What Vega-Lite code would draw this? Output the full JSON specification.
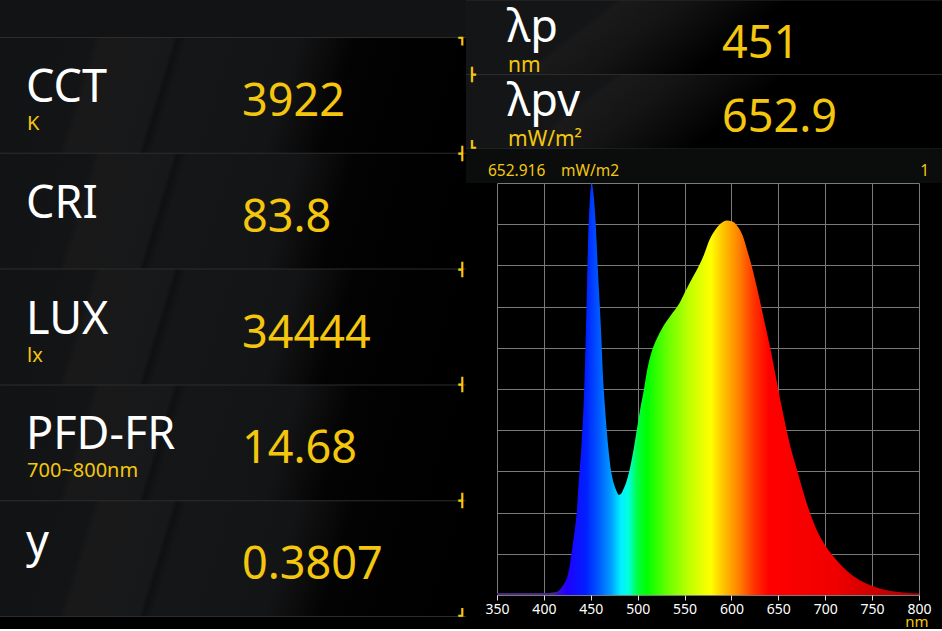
{
  "$schema": "https://vega.github.io/schema/vega-lite/v6.json",
  "background": "#000000",
  "padding": 0,
  "autosize": {"type": "pad"},
  "spacing": 0,
  "config": {
    "view": {"stroke": null},
    "concat": {"spacing": 0},
    "font": "Noto Sans"
  },
  "datasets": {
    "leftPanels": [
      {"metric": "CCT", "value": "3922", "unit": "K"},
      {"metric": "CRI", "value": "83.8", "unit": ""},
      {"metric": "LUX", "value": "34444", "unit": "lx"},
      {"metric": "PFD-FR", "value": "14.68", "unit": "700~800nm"},
      {"metric": "y", "value": "0.3807", "unit": ""}
    ],
    "rightPanels": [
      {"metric": "λp", "value": "451", "unit": "nm"},
      {"metric": "λpv", "value": "652.9", "unit": "mW/m²"}
    ],
    "header": [
      {"reading": "652.916", "unit": "mW/m2", "fullScale": "1"}
    ],
    "spectrum": [
      {"wavelength": 350, "irradiance": 0.005},
      {"wavelength": 405, "irradiance": 0.005},
      {"wavelength": 410, "irradiance": 0.006},
      {"wavelength": 414, "irradiance": 0.008},
      {"wavelength": 418, "irradiance": 0.016},
      {"wavelength": 421, "irradiance": 0.025},
      {"wavelength": 424, "irradiance": 0.038},
      {"wavelength": 427, "irradiance": 0.065},
      {"wavelength": 430, "irradiance": 0.11},
      {"wavelength": 433, "irradiance": 0.16},
      {"wavelength": 435, "irradiance": 0.2},
      {"wavelength": 437, "irradiance": 0.27},
      {"wavelength": 440, "irradiance": 0.36},
      {"wavelength": 443, "irradiance": 0.5},
      {"wavelength": 445, "irradiance": 0.66},
      {"wavelength": 447, "irradiance": 0.85},
      {"wavelength": 449, "irradiance": 0.96},
      {"wavelength": 451, "irradiance": 1.0},
      {"wavelength": 453, "irradiance": 0.97},
      {"wavelength": 455, "irradiance": 0.91},
      {"wavelength": 458, "irradiance": 0.77},
      {"wavelength": 461, "irradiance": 0.64},
      {"wavelength": 463, "irradiance": 0.53},
      {"wavelength": 465, "irradiance": 0.46},
      {"wavelength": 467, "irradiance": 0.4},
      {"wavelength": 469, "irradiance": 0.35},
      {"wavelength": 471, "irradiance": 0.31},
      {"wavelength": 474, "irradiance": 0.275},
      {"wavelength": 477, "irradiance": 0.255},
      {"wavelength": 480, "irradiance": 0.243},
      {"wavelength": 482, "irradiance": 0.245},
      {"wavelength": 485, "irradiance": 0.258},
      {"wavelength": 488, "irradiance": 0.275},
      {"wavelength": 491, "irradiance": 0.3},
      {"wavelength": 495, "irradiance": 0.345},
      {"wavelength": 499, "irradiance": 0.4},
      {"wavelength": 503, "irradiance": 0.455},
      {"wavelength": 506, "irradiance": 0.49},
      {"wavelength": 510, "irradiance": 0.545},
      {"wavelength": 513, "irradiance": 0.575},
      {"wavelength": 516, "irradiance": 0.598},
      {"wavelength": 520, "irradiance": 0.62},
      {"wavelength": 527, "irradiance": 0.651},
      {"wavelength": 535, "irradiance": 0.678},
      {"wavelength": 545, "irradiance": 0.71},
      {"wavelength": 552, "irradiance": 0.742},
      {"wavelength": 558, "irradiance": 0.768},
      {"wavelength": 563, "irradiance": 0.789},
      {"wavelength": 570, "irradiance": 0.822},
      {"wavelength": 577, "irradiance": 0.864},
      {"wavelength": 584, "irradiance": 0.89},
      {"wavelength": 590, "irradiance": 0.904},
      {"wavelength": 595, "irradiance": 0.909},
      {"wavelength": 600, "irradiance": 0.907},
      {"wavelength": 604, "irradiance": 0.902},
      {"wavelength": 608, "irradiance": 0.89},
      {"wavelength": 613, "irradiance": 0.866},
      {"wavelength": 617, "irradiance": 0.835},
      {"wavelength": 620, "irradiance": 0.812},
      {"wavelength": 627, "irradiance": 0.748},
      {"wavelength": 634, "irradiance": 0.676},
      {"wavelength": 641, "irradiance": 0.603},
      {"wavelength": 648, "irradiance": 0.522},
      {"wavelength": 655, "irradiance": 0.441},
      {"wavelength": 662, "irradiance": 0.368},
      {"wavelength": 670, "irradiance": 0.303},
      {"wavelength": 677, "irradiance": 0.247},
      {"wavelength": 684, "irradiance": 0.198},
      {"wavelength": 691, "irradiance": 0.158},
      {"wavelength": 701, "irradiance": 0.117},
      {"wavelength": 712, "irradiance": 0.085},
      {"wavelength": 726, "irradiance": 0.053},
      {"wavelength": 740, "irradiance": 0.032},
      {"wavelength": 758, "irradiance": 0.016},
      {"wavelength": 776, "irradiance": 0.008},
      {"wavelength": 790, "irradiance": 0.005},
      {"wavelength": 800, "irradiance": 0.004}
    ]
  },
  "hconcat": [
    {
      "spacing": 0,
      "bounds": "flush",
      "vconcat": [
        {
          "width": 466,
          "height": 37,
          "view": {"fill": "#121314"},
          "data": {"name": "header"},
          "mark": {"type": "text", "text": ""},
          "encoding": {}
        },
        {
          "width": 466,
          "height": 580,
          "view": {"fill": "#2c2c2c"},
          "data": {"name": "leftPanels"},
          "layer": [
            {
              "mark": {
                "type": "rect",
                "fill": {
                  "gradient": "linear",
                  "x1": 0, "y1": 0, "x2": 1, "y2": 0.075,
                  "stops": [
                    {"offset": 0, "color": "#121314"},
                    {"offset": 0.2, "color": "#131415"},
                    {"offset": 0.215, "color": "#19191a"},
                    {"offset": 0.37, "color": "#171819"},
                    {"offset": 0.38, "color": "#0f1011"},
                    {"offset": 0.4, "color": "#151617"},
                    {"offset": 0.64, "color": "#131415"},
                    {"offset": 0.7, "color": "#0c0c0d"},
                    {"offset": 0.76, "color": "#030303"},
                    {"offset": 1, "color": "#000000"}
                  ]
                }
              },
              "encoding": {
                "y": {"field": "metric", "type": "nominal", "sort": null, "scale": {"paddingInner": 0.0087, "paddingOuter": 0.0087}, "axis": null}
              }
            },
            {
              "transform": [{"filter": "datum.metric !== 'y'"}],
              "mark": {"type": "text", "x": 26, "dy": 64, "align": "left", "baseline": "alphabetic", "font": "Noto Sans", "fontSize": 45, "color": "#ffffff"},
              "encoding": {
                "y": {"field": "metric", "type": "nominal", "sort": null, "bandPosition": 0, "axis": null},
                "text": {"field": "metric"}
              }
            },
            {
              "transform": [{"filter": "datum.metric === 'y'"}],
              "mark": {"type": "text", "x": 26, "dy": 56, "align": "left", "baseline": "alphabetic", "font": "Noto Sans", "fontSize": 45, "color": "#ffffff"},
              "encoding": {
                "y": {"field": "metric", "type": "nominal", "sort": null, "bandPosition": 0, "axis": null},
                "text": {"field": "metric"}
              }
            },
            {
              "mark": {"type": "text", "x": 27, "dy": 92, "align": "left", "baseline": "alphabetic", "font": "Noto Sans", "fontSize": 20, "color": "#f4c70e"},
              "encoding": {
                "y": {"field": "metric", "type": "nominal", "sort": null, "bandPosition": 0, "axis": null},
                "text": {"field": "unit"}
              }
            },
            {
              "mark": {"type": "text", "x": 242, "dy": 78, "align": "left", "baseline": "alphabetic", "font": "Noto Sans", "fontSize": 45, "color": "#f4c70e"},
              "encoding": {
                "y": {"field": "metric", "type": "nominal", "sort": null, "bandPosition": 0, "axis": null},
                "text": {"field": "value"}
              }
            },
            {
              "transform": [{"filter": "datum.metric === 'CCT'"}],
              "mark": {"type": "text", "text": "┓", "x": 466, "align": "right", "baseline": "middle", "font": "DejaVu Sans Mono", "fontSize": 13, "color": "#f4c70e"},
              "encoding": {
                "y": {"field": "metric", "type": "nominal", "sort": null, "bandPosition": 0, "axis": null}
              }
            },
            {
              "transform": [{"filter": "datum.metric !== 'CCT'"}],
              "mark": {"type": "text", "text": "┫", "x": 466, "align": "right", "baseline": "middle", "font": "DejaVu Sans Mono", "fontSize": 13, "color": "#f4c70e"},
              "encoding": {
                "y": {"field": "metric", "type": "nominal", "sort": null, "bandPosition": 0, "axis": null}
              }
            },
            {
              "transform": [{"filter": "datum.metric === 'y'"}],
              "mark": {"type": "text", "text": "┛", "x": 466, "align": "right", "baseline": "middle", "font": "DejaVu Sans Mono", "fontSize": 13, "color": "#f4c70e"},
              "encoding": {
                "y": {"field": "metric", "type": "nominal", "sort": null, "bandPosition": 1, "axis": null}
              }
            }
          ]
        }
      ]
    },
    {
      "spacing": 0,
      "bounds": "flush",
      "vconcat": [
        {
          "width": 476,
          "height": 149,
          "view": {"fill": "#2c2c2c"},
          "data": {"name": "rightPanels"},
          "layer": [
            {
              "mark": {
                "type": "rect",
                "fill": {
                  "gradient": "linear",
                  "x1": 0, "y1": 0, "x2": 1, "y2": 0.2,
                  "stops": [
                    {"offset": 0, "color": "#141516"},
                    {"offset": 0.3, "color": "#141516"},
                    {"offset": 0.32, "color": "#1a1a1b"},
                    {"offset": 0.44, "color": "#141415"},
                    {"offset": 0.55, "color": "#0a0a0a"},
                    {"offset": 0.65, "color": "#000000"},
                    {"offset": 1, "color": "#000000"}
                  ]
                }
              },
              "encoding": {
                "y": {"field": "metric", "type": "nominal", "sort": null, "scale": {"paddingInner": 0.0136, "paddingOuter": 0.0068}, "axis": null}
              }
            },
            {
              "mark": {"type": "text", "x": 41, "dy": 41, "align": "left", "baseline": "alphabetic", "font": "Noto Sans", "fontSize": 45, "color": "#ffffff"},
              "encoding": {
                "y": {"field": "metric", "type": "nominal", "sort": null, "bandPosition": 0, "axis": null},
                "text": {"field": "metric"}
              }
            },
            {
              "mark": {"type": "text", "x": 42, "dy": 71, "align": "left", "baseline": "alphabetic", "font": "Noto Sans", "fontSize": 21, "color": "#f4c70e"},
              "encoding": {
                "y": {"field": "metric", "type": "nominal", "sort": null, "bandPosition": 0, "axis": null},
                "text": {"field": "unit"}
              }
            },
            {
              "mark": {"type": "text", "x": 256, "dy": 57, "align": "left", "baseline": "alphabetic", "font": "Noto Sans", "fontSize": 45, "color": "#f4c70e"},
              "encoding": {
                "y": {"field": "metric", "type": "nominal", "sort": null, "bandPosition": 0, "axis": null},
                "text": {"field": "value"}
              }
            },
            {
              "transform": [{"filter": "datum.metric === 'λpv'"}],
              "mark": {"type": "text", "text": "┣", "x": 2, "align": "left", "baseline": "middle", "font": "DejaVu Sans Mono", "fontSize": 13, "color": "#f4c70e"},
              "encoding": {
                "y": {"field": "metric", "type": "nominal", "sort": null, "bandPosition": 0, "axis": null}
              }
            },
            {
              "transform": [{"filter": "datum.metric === 'λpv'"}],
              "mark": {"type": "text", "text": "┗", "x": 2, "align": "left", "baseline": "middle", "font": "DejaVu Sans Mono", "fontSize": 13, "color": "#f4c70e"},
              "encoding": {
                "y": {"field": "metric", "type": "nominal", "sort": null, "bandPosition": 1, "axis": null}
              }
            }
          ]
        },
        {
          "width": 476,
          "height": 34,
          "view": {"fill": "#0b0c0c"},
          "data": {"name": "header"},
          "layer": [
            {
              "mark": {"type": "text", "x": 22, "y": 27, "align": "left", "baseline": "alphabetic", "font": "Noto Sans", "fontSize": 15.5, "color": "#f4c70e"},
              "encoding": {"text": {"field": "reading"}}
            },
            {
              "mark": {"type": "text", "x": 95, "y": 27, "align": "left", "baseline": "alphabetic", "font": "Noto Sans", "fontSize": 15.5, "color": "#f4c70e"},
              "encoding": {"text": {"field": "unit"}}
            },
            {
              "mark": {"type": "text", "x": 463, "y": 27, "align": "right", "baseline": "alphabetic", "font": "Noto Sans", "fontSize": 15.5, "color": "#f4c70e"},
              "encoding": {"text": {"field": "fullScale"}}
            }
          ]
        },
        {
          "width": 476,
          "height": 412,
          "data": {"name": "spectrum"},
          "mark": {
            "type": "area",
            "interpolate": "monotone",
            "fill": {
              "gradient": "linear",
              "x1": 0, "y1": 0, "x2": 1, "y2": 0,
              "stops": [
                {"offset": 0, "color": "#4a2a7a"},
                {"offset": 0.1333, "color": "#4a2a8a"},
                {"offset": 0.1444, "color": "#3a10d0"},
                {"offset": 0.1667, "color": "#2000ff"},
                {"offset": 0.2111, "color": "#0020ff"},
                {"offset": 0.2444, "color": "#0060ff"},
                {"offset": 0.2711, "color": "#00a0ff"},
                {"offset": 0.2933, "color": "#00f0ff"},
                {"offset": 0.3111, "color": "#00ffe0"},
                {"offset": 0.3333, "color": "#00ff40"},
                {"offset": 0.3556, "color": "#00ff00"},
                {"offset": 0.4, "color": "#60ff00"},
                {"offset": 0.4556, "color": "#c0ff00"},
                {"offset": 0.5067, "color": "#ffff00"},
                {"offset": 0.5378, "color": "#ffc000"},
                {"offset": 0.5733, "color": "#ff8000"},
                {"offset": 0.6111, "color": "#ff3000"},
                {"offset": 0.6444, "color": "#ff0000"},
                {"offset": 0.8, "color": "#f00000"},
                {"offset": 0.8889, "color": "#d00000"},
                {"offset": 1, "color": "#b00000"}
              ]
            }
          },
          "encoding": {
            "x": {
              "field": "wavelength",
              "type": "quantitative",
              "scale": {"domain": [350, 800], "range": [31, 453], "nice": false, "zero": false},
              "axis": {
                "values": [350, 400, 450, 500, 550, 600, 650, 700, 750, 800],
                "grid": true, "gridColor": "#7a7a7a", "gridOpacity": 1, "gridWidth": 1,
                "domain": false,
                "ticks": true, "tickColor": "#e0e0e0", "tickSize": 5, "tickWidth": 1,
                "labelColor": "#ffffff", "labelFont": "Noto Sans", "labelFontSize": 14, "labelPadding": 2,
                "labelFlush": false, "labelOverlap": false,
                "title": "nm", "titleColor": "#f4c70e", "titleFont": "Noto Sans", "titleFontSize": 15, "titleFontWeight": "normal",
                "titleX": 462, "titleY": 31, "titleAlign": "right", "titleBaseline": "alphabetic"
              }
            },
            "y": {
              "field": "irradiance",
              "type": "quantitative",
              "scale": {"domain": [0, 1], "nice": false, "zero": true},
              "axis": {
                "values": [0, 0.1, 0.2, 0.3, 0.4, 0.5, 0.6, 0.7, 0.8, 0.9, 1],
                "grid": true, "gridColor": "#7a7a7a", "gridOpacity": 1, "gridWidth": 1,
                "labels": false, "ticks": false, "domain": false, "title": null
              }
            }
          }
        }
      ]
    }
  ]
}
